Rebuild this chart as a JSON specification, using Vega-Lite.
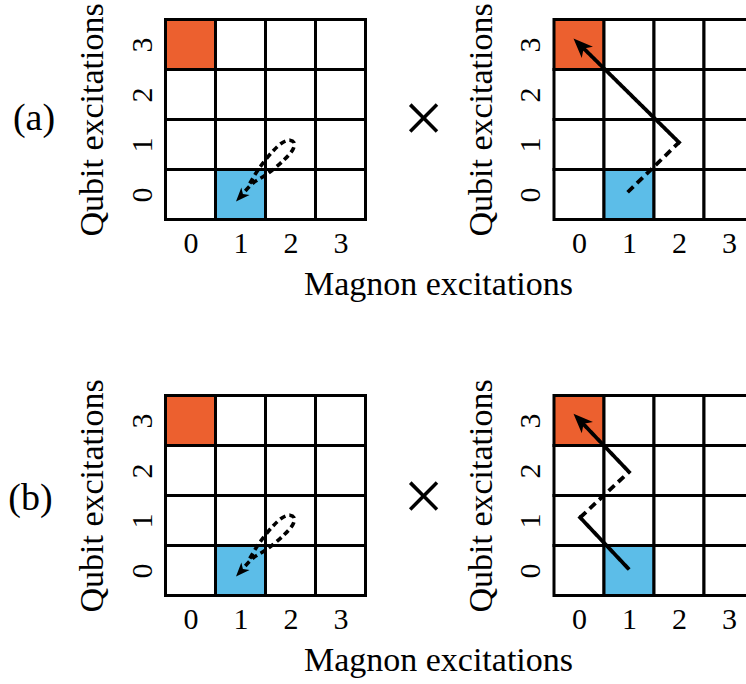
{
  "$schema": "https://vega.github.io/schema/vega-lite/v6.json",
  "background": "white",
  "padding": {"left": 7.5, "top": 2.4, "right": 0, "bottom": 5},
  "config": {
    "font": "Liberation Serif",
    "view": {"stroke": null},
    "axis": {
      "values": [0, 1, 2, 3],
      "grid": false, "domain": false, "ticks": false, "tickSize": 0,
      "labelFontSize": 30, "labelColor": "black", "labelOverlap": false, "labelFlush": false,
      "titleFontSize": 34, "titleColor": "black", "titleFontWeight": "normal"
    }
  },
  "datasets": {
    "cells": [
      {"m": 0, "q": 0, "state": "none"}, {"m": 1, "q": 0, "state": "initial"}, {"m": 2, "q": 0, "state": "none"}, {"m": 3, "q": 0, "state": "none"},
      {"m": 0, "q": 1, "state": "none"}, {"m": 1, "q": 1, "state": "none"}, {"m": 2, "q": 1, "state": "none"}, {"m": 3, "q": 1, "state": "none"},
      {"m": 0, "q": 2, "state": "none"}, {"m": 1, "q": 2, "state": "none"}, {"m": 2, "q": 2, "state": "none"}, {"m": 3, "q": 2, "state": "none"},
      {"m": 0, "q": 3, "state": "final"}, {"m": 1, "q": 3, "state": "none"}, {"m": 2, "q": 3, "state": "none"}, {"m": 3, "q": 3, "state": "none"}
    ],
    "paths": [
      {"panel": "a1", "seg": "L", "style": "loop", "k": 1, "m": 1.186, "q": 0.218},
      {"panel": "a1", "seg": "L", "style": "loop", "k": 2, "m": 1.372, "q": 0.522},
      {"panel": "a1", "seg": "L", "style": "loop", "k": 3, "m": 1.656, "q": 0.873},
      {"panel": "a1", "seg": "L", "style": "loop", "k": 4, "m": 1.844, "q": 1.039},
      {"panel": "a1", "seg": "L", "style": "loop", "k": 5, "m": 1.987, "q": 1.084},
      {"panel": "a1", "seg": "L", "style": "loop", "k": 6, "m": 2.067, "q": 1.037},
      {"panel": "a1", "seg": "L", "style": "loop", "k": 7, "m": 2.054, "q": 0.913},
      {"panel": "a1", "seg": "L", "style": "loop", "k": 8, "m": 1.862, "q": 0.682},
      {"panel": "a1", "seg": "L", "style": "loop", "k": 9, "m": 1.512, "q": 0.393},
      {"panel": "a1", "seg": "L", "style": "loop", "k": 10, "m": 1.250, "q": 0.227},
      {"panel": "a1", "seg": "L", "style": "loop", "k": 11, "m": 1.012, "q": -0.030},

      {"panel": "b1", "seg": "L", "style": "loop", "k": 1, "m": 1.186, "q": 0.238},
      {"panel": "b1", "seg": "L", "style": "loop", "k": 2, "m": 1.372, "q": 0.542},
      {"panel": "b1", "seg": "L", "style": "loop", "k": 3, "m": 1.656, "q": 0.893},
      {"panel": "b1", "seg": "L", "style": "loop", "k": 4, "m": 1.844, "q": 1.059},
      {"panel": "b1", "seg": "L", "style": "loop", "k": 5, "m": 1.987, "q": 1.104},
      {"panel": "b1", "seg": "L", "style": "loop", "k": 6, "m": 2.067, "q": 1.057},
      {"panel": "b1", "seg": "L", "style": "loop", "k": 7, "m": 2.054, "q": 0.933},
      {"panel": "b1", "seg": "L", "style": "loop", "k": 8, "m": 1.862, "q": 0.702},
      {"panel": "b1", "seg": "L", "style": "loop", "k": 9, "m": 1.512, "q": 0.413},
      {"panel": "b1", "seg": "L", "style": "loop", "k": 10, "m": 1.250, "q": 0.247},
      {"panel": "b1", "seg": "L", "style": "loop", "k": 11, "m": 1.012, "q": -0.010},

      {"panel": "a2", "seg": "D", "style": "dashed", "k": 1, "m": 0.973, "q": 0.043},
      {"panel": "a2", "seg": "D", "style": "dashed", "k": 2, "m": 2.0, "q": 1.04},
      {"panel": "a2", "seg": "S", "style": "solid", "k": 1, "m": 1.975, "q": 1.016},
      {"panel": "a2", "seg": "S", "style": "solid", "k": 2, "m": 2.0, "q": 1.04},
      {"panel": "a2", "seg": "S", "style": "solid", "k": 3, "m": -0.003, "q": 3.015},

      {"panel": "b2", "seg": "S1", "style": "solid", "k": 1, "m": 1.004, "q": 0.017},
      {"panel": "b2", "seg": "S1", "style": "solid", "k": 2, "m": 0.023, "q": 1.058},
      {"panel": "b2", "seg": "S1", "style": "solid", "k": 3, "m": 0.049, "q": 1.082},
      {"panel": "b2", "seg": "D", "style": "dashed", "k": 1, "m": 0.023, "q": 1.058},
      {"panel": "b2", "seg": "D", "style": "dashed", "k": 2, "m": 1.0, "q": 1.97},
      {"panel": "b2", "seg": "S2", "style": "solid", "k": 1, "m": 0.974, "q": 1.946},
      {"panel": "b2", "seg": "S2", "style": "solid", "k": 2, "m": 1.0, "q": 1.97},
      {"panel": "b2", "seg": "S2", "style": "solid", "k": 3, "m": -0.007, "q": 3.026}
    ],
    "heads": [
      {"panel": "a1", "m": 0.91, "q": -0.14},
      {"panel": "b1", "m": 0.91, "q": -0.12},
      {"panel": "a2", "m": -0.11, "q": 3.12},
      {"panel": "b2", "m": -0.11, "q": 3.135}
    ],
    "notes": [
      {"panel": "a", "kind": "tag", "text": "(a)", "m": -3.13, "q": 1.5},
      {"panel": "a", "kind": "op", "text": "×", "m": 4.66, "q": 1.48},
      {"panel": "b", "kind": "tag", "text": "(b)", "m": -3.2, "q": 1.42},
      {"panel": "b", "kind": "op", "text": "×", "m": 4.66, "q": 1.44}
    ]
  },
  "spacing": 376,
  "bounds": "flush",
  "vconcat": [
    {
      "spacing": 188.5,
      "bounds": "flush",
      "hconcat": [
        {
          "width": 200, "height": 200,
          "encoding": {
            "x": {"field": "m", "type": "quantitative", "scale": {"domain": [-0.5, 3.5], "nice": false, "zero": false},
              "axis": {"title": "Magnon excitations", "titleX": 272.5, "titleY": 75, "titleAlign": "center", "titleBaseline": "alphabetic", "labelBaseline": "alphabetic", "labelPadding": 33}},
            "y": {"field": "q", "type": "quantitative", "scale": {"domain": [-0.5, 3.5], "nice": false, "zero": false},
              "axis": {"title": "Qubit excitations", "titleAngle": 270, "titleX": -63, "titleY": 100, "titleAlign": "center", "titleBaseline": "alphabetic", "labelAngle": 270, "labelAlign": "center", "labelBaseline": "alphabetic", "labelPadding": 14.5}}
          },
          "layer": [
            {"data": {"name": "cells"}, "mark": {"type": "square", "size": 2500, "stroke": "black", "strokeWidth": 3, "opacity": 1, "fillOpacity": 1},
              "encoding": {"fill": {"field": "state", "type": "nominal", "scale": {"domain": ["none", "initial", "final"], "range": ["white", "#5CBDE8", "#EC602F"]}, "legend": null}}},
            {"data": {"name": "paths"}, "transform": [{"filter": "datum.panel === 'a1'"}],
              "mark": {"type": "line", "stroke": "black", "strokeWidth": 3.6, "interpolate": "catmull-rom", "strokeCap": "butt"},
              "encoding": {"order": {"field": "k", "type": "quantitative"}, "detail": {"field": "seg", "type": "nominal"},
                "strokeDash": {"field": "style", "type": "nominal", "scale": {"domain": ["solid", "dashed", "loop"], "range": [[1, 0], [8, 5], [6, 4]]}, "legend": null}}},
            {"data": {"name": "heads"}, "transform": [{"filter": "datum.panel === 'a1'"}],
              "mark": {"type": "point", "shape": "M0,0 L0.75,1.85 L0,1.35 L-0.75,1.85 Z", "filled": true, "fill": "black", "opacity": 1, "strokeWidth": 0, "size": 225, "angle": 223}},
            {"data": {"name": "notes"}, "transform": [{"filter": "datum.panel === 'a' && datum.kind === 'tag'"}],
              "mark": {"type": "text", "fontSize": 38, "align": "center", "baseline": "middle", "color": "black"},
              "encoding": {"text": {"field": "text"}}},
            {"data": {"name": "notes"}, "transform": [{"filter": "datum.panel === 'a' && datum.kind === 'op'"}],
              "mark": {"type": "text", "fontSize": 72, "align": "center", "baseline": "middle", "color": "black"},
              "encoding": {"text": {"field": "text"}}}
          ]
        },
        {
          "width": 200, "height": 200,
          "encoding": {
            "x": {"field": "m", "type": "quantitative", "scale": {"domain": [-0.5, 3.5], "nice": false, "zero": false},
              "axis": {"title": null, "labelBaseline": "alphabetic", "labelPadding": 33}},
            "y": {"field": "q", "type": "quantitative", "scale": {"domain": [-0.5, 3.5], "nice": false, "zero": false},
              "axis": {"title": "Qubit excitations", "titleAngle": 270, "titleX": -62, "titleY": 100, "titleAlign": "center", "titleBaseline": "alphabetic", "labelAngle": 270, "labelAlign": "center", "labelBaseline": "alphabetic", "labelPadding": 14.5}}
          },
          "layer": [
            {"data": {"name": "cells"}, "mark": {"type": "square", "size": 2500, "stroke": "black", "strokeWidth": 3, "opacity": 1, "fillOpacity": 1},
              "encoding": {"fill": {"field": "state", "type": "nominal", "scale": {"domain": ["none", "initial", "final"], "range": ["white", "#5CBDE8", "#EC602F"]}, "legend": null}}},
            {"data": {"name": "paths"}, "transform": [{"filter": "datum.panel === 'a2'"}],
              "mark": {"type": "line", "stroke": "black", "strokeWidth": 3.8, "interpolate": "linear", "strokeCap": "butt"},
              "encoding": {"order": {"field": "k", "type": "quantitative"}, "detail": {"field": "seg", "type": "nominal"},
                "strokeDash": {"field": "style", "type": "nominal", "scale": {"domain": ["solid", "dashed", "loop"], "range": [[1, 0], [8, 5], [6, 4]]}, "legend": null}}},
            {"data": {"name": "heads"}, "transform": [{"filter": "datum.panel === 'a2'"}],
              "mark": {"type": "point", "shape": "M0,0 L0.75,1.85 L0,1.35 L-0.75,1.85 Z", "filled": true, "fill": "black", "opacity": 1, "strokeWidth": 0, "size": 450, "angle": 315}}
          ]
        }
      ]
    },
    {
      "spacing": 188.5,
      "bounds": "flush",
      "hconcat": [
        {
          "width": 200, "height": 200,
          "encoding": {
            "x": {"field": "m", "type": "quantitative", "scale": {"domain": [-0.5, 3.5], "nice": false, "zero": false},
              "axis": {"title": "Magnon excitations", "titleX": 272.5, "titleY": 75, "titleAlign": "center", "titleBaseline": "alphabetic", "labelBaseline": "alphabetic", "labelPadding": 33}},
            "y": {"field": "q", "type": "quantitative", "scale": {"domain": [-0.5, 3.5], "nice": false, "zero": false},
              "axis": {"title": "Qubit excitations", "titleAngle": 270, "titleX": -63, "titleY": 100, "titleAlign": "center", "titleBaseline": "alphabetic", "labelAngle": 270, "labelAlign": "center", "labelBaseline": "alphabetic", "labelPadding": 14.5}}
          },
          "layer": [
            {"data": {"name": "cells"}, "mark": {"type": "square", "size": 2500, "stroke": "black", "strokeWidth": 3, "opacity": 1, "fillOpacity": 1},
              "encoding": {"fill": {"field": "state", "type": "nominal", "scale": {"domain": ["none", "initial", "final"], "range": ["white", "#5CBDE8", "#EC602F"]}, "legend": null}}},
            {"data": {"name": "paths"}, "transform": [{"filter": "datum.panel === 'b1'"}],
              "mark": {"type": "line", "stroke": "black", "strokeWidth": 3.6, "interpolate": "catmull-rom", "strokeCap": "butt"},
              "encoding": {"order": {"field": "k", "type": "quantitative"}, "detail": {"field": "seg", "type": "nominal"},
                "strokeDash": {"field": "style", "type": "nominal", "scale": {"domain": ["solid", "dashed", "loop"], "range": [[1, 0], [8, 5], [6, 4]]}, "legend": null}}},
            {"data": {"name": "heads"}, "transform": [{"filter": "datum.panel === 'b1'"}],
              "mark": {"type": "point", "shape": "M0,0 L0.75,1.85 L0,1.35 L-0.75,1.85 Z", "filled": true, "fill": "black", "opacity": 1, "strokeWidth": 0, "size": 225, "angle": 223}},
            {"data": {"name": "notes"}, "transform": [{"filter": "datum.panel === 'b' && datum.kind === 'tag'"}],
              "mark": {"type": "text", "fontSize": 38, "align": "center", "baseline": "middle", "color": "black"},
              "encoding": {"text": {"field": "text"}}},
            {"data": {"name": "notes"}, "transform": [{"filter": "datum.panel === 'b' && datum.kind === 'op'"}],
              "mark": {"type": "text", "fontSize": 72, "align": "center", "baseline": "middle", "color": "black"},
              "encoding": {"text": {"field": "text"}}}
          ]
        },
        {
          "width": 200, "height": 200,
          "encoding": {
            "x": {"field": "m", "type": "quantitative", "scale": {"domain": [-0.5, 3.5], "nice": false, "zero": false},
              "axis": {"title": null, "labelBaseline": "alphabetic", "labelPadding": 33}},
            "y": {"field": "q", "type": "quantitative", "scale": {"domain": [-0.5, 3.5], "nice": false, "zero": false},
              "axis": {"title": "Qubit excitations", "titleAngle": 270, "titleX": -62, "titleY": 100, "titleAlign": "center", "titleBaseline": "alphabetic", "labelAngle": 270, "labelAlign": "center", "labelBaseline": "alphabetic", "labelPadding": 14.5}}
          },
          "layer": [
            {"data": {"name": "cells"}, "mark": {"type": "square", "size": 2500, "stroke": "black", "strokeWidth": 3, "opacity": 1, "fillOpacity": 1},
              "encoding": {"fill": {"field": "state", "type": "nominal", "scale": {"domain": ["none", "initial", "final"], "range": ["white", "#5CBDE8", "#EC602F"]}, "legend": null}}},
            {"data": {"name": "paths"}, "transform": [{"filter": "datum.panel === 'b2'"}],
              "mark": {"type": "line", "stroke": "black", "strokeWidth": 3.8, "interpolate": "linear", "strokeCap": "butt"},
              "encoding": {"order": {"field": "k", "type": "quantitative"}, "detail": {"field": "seg", "type": "nominal"},
                "strokeDash": {"field": "style", "type": "nominal", "scale": {"domain": ["solid", "dashed", "loop"], "range": [[1, 0], [8, 5], [6, 4]]}, "legend": null}}},
            {"data": {"name": "heads"}, "transform": [{"filter": "datum.panel === 'b2'"}],
              "mark": {"type": "point", "shape": "M0,0 L0.75,1.85 L0,1.35 L-0.75,1.85 Z", "filled": true, "fill": "black", "opacity": 1, "strokeWidth": 0, "size": 450, "angle": 315}}
          ]
        }
      ]
    }
  ]
}
